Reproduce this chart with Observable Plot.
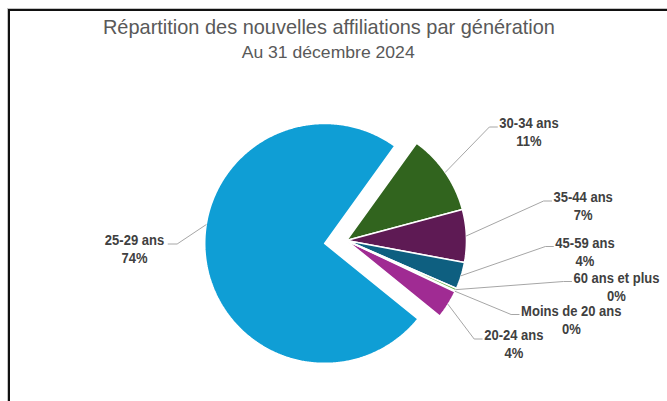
<!DOCTYPE html>
<html>
<head>
<meta charset="utf-8">
<script src="https://cdn.jsdelivr.net/npm/d3@7"></script>
<script src="https://cdn.jsdelivr.net/npm/@observablehq/plot@0.6"></script>
<style>
  html, body { margin: 0; padding: 0; background: #fff; }
  body { width: 667px; height: 401px; overflow: hidden; position: relative; }
  #chart { position: absolute; left: 0; top: 0; }
  #frameOuter { position: absolute; left: 7px; top: 8px; width: 700px; height: 420px;
    border-left: 1px solid #c4c4c4; border-top: 1px solid #c4c4c4; box-sizing: border-box; }
  #frameInner { position: absolute; left: 0; top: 0; width: 700px; height: 420px;
    border-left: 2px solid #111; border-top: 2px solid #111; box-sizing: border-box; }
  .ttl { position: absolute; left: 0; width: 657px; text-align: center; color: #595959;
    font-family: "Liberation Sans Narrow", "Arial Narrow", "Liberation Sans", sans-serif; white-space: nowrap; }
  #title { top: 15px; font-size: 21px; line-height: 24px; }
  #subtitle { top: 42px; font-size: 16.5px; line-height: 20px; }
</style>
</head>
<body>
<div id="chart"></div>
<div id="frameOuter"><div id="frameInner"></div></div>
<div id="title" class="ttl">Répartition des nouvelles affiliations par génération</div>
<div id="subtitle" class="ttl">Au 31 décembre 2024</div>
<script>
// ---- data ----
const categories = ["Moins de 20 ans", "20-24 ans", "25-29 ans", "30-34 ans", "35-44 ans", "45-59 ans", "60 ans et plus"];
const shares = [0.15, 3.8, 74.1, 10.9, 7.1, 3.6, 0.35];
const sliceColors = ["#196B24", "#A02B93", "#0F9ED5", "#31641E", "#5E1A54", "#0E5F80", "#4EA72E"];

// ---- layout ----
const W = 667, H = 401;
const pieCenter = [346, 240];
const radius = 120;
const firstSliceAngle = 114.8; // degrees, clockwise from 12 o'clock
const explode = {"25-29 ans": 22};
// label block: [center x, first line center y, side]
const labelLayout = {
  "30-34 ans": [528.5, 123, "right"],
  "35-44 ans": [582.7, 197, "right"],
  "45-59 ans": [584.5, 242.5, "right"],
  "60 ans et plus": [616, 277.5, "right"],
  "Moins de 20 ans": [570.8, 310.5, "right"],
  "20-24 ans": [513.3, 335, "right"],
  "25-29 ans": [134, 240, "left"]
};
const leaderAngleOverride = {"25-29 ans": 279};
const widthFont = "bold 13px 'Liberation Sans', Arial, sans-serif";

// ---- geometry from data ----
const rows = categories.map((c, i) => ({cat: c, share: shares[i], color: sliceColors[i]}));
const a0 = firstSliceAngle * Math.PI / 180;
const arcs = d3.pie().sort(null).value(d => d.share).startAngle(a0).endAngle(a0 + 2 * Math.PI)(rows);

const polyPts = [];
const sliceInfo = {};
for (const arc of arcs) {
  const cat = arc.data.cat;
  const mid = (arc.startAngle + arc.endAngle) / 2;
  const e = explode[cat] || 0;
  const ax = pieCenter[0] + e * Math.sin(mid);
  const ay = pieCenter[1] - e * Math.cos(mid);
  sliceInfo[cat] = {ax, ay, mid};
  polyPts.push({cat, x: ax, y: ay});
  const n = Math.max(2, Math.ceil((arc.endAngle - arc.startAngle) / (0.5 * Math.PI / 180)));
  for (let k = 0; k <= n; k++) {
    const a = arc.startAngle + (arc.endAngle - arc.startAngle) * k / n;
    polyPts.push({cat, x: ax + radius * Math.sin(a), y: ay - radius * Math.cos(a)});
  }
  polyPts.push({cat, x: ax, y: ay});
}

// ---- labels + leaders ----
const ctx = document.createElement("canvas").getContext("2d");
ctx.font = widthFont;
const labelRows = [];
const leaderPts = [];
arcs.forEach(arc => {
  const cat = arc.data.cat;
  const [lx, ly, side] = labelLayout[cat];
  const pct = Math.round(arc.data.share) + "%";
  labelRows.push({cat, x: lx, y: ly, text: cat});
  labelRows.push({cat, x: lx, y: ly + 18, text: pct});
  const w = ctx.measureText(cat).width;
  const s = sliceInfo[cat];
  const la = leaderAngleOverride[cat] != null ? leaderAngleOverride[cat] * Math.PI / 180 : s.mid;
  const sx = s.ax + radius * Math.sin(la), sy = s.ay - radius * Math.cos(la);
  let ex, ey = ly + 3.5, endx;
  if (side === "right") { ex = lx - w / 2 - 10; endx = lx - w / 2 - 2; }
  else { ex = lx + w / 2 + 13; endx = lx + w / 2 + 4; }
  leaderPts.push({cat, x: sx, y: sy}, {cat, x: ex, y: ey}, {cat, x: endx, y: ey});
});

const plot = Plot.plot({
  width: W, height: H,
  marginTop: 0, marginRight: 0, marginBottom: 0, marginLeft: 0,
  x: {domain: [0, W], range: [0, W], axis: null},
  y: {domain: [0, H], range: [0, H], axis: null},
  color: {domain: categories, range: sliceColors},
  style: {background: "none", overflow: "visible"},
  marks: [
    Plot.line(polyPts, {x: "x", y: "y", z: "cat", fill: "cat", stroke: "white", strokeWidth: 1.6, strokeLinejoin: "miter", curve: "linear"}),
    Plot.line(leaderPts, {x: "x", y: "y", z: "cat", stroke: "#a6a6a6", strokeWidth: 1, curve: "linear"}),
    Plot.text(labelRows, {x: "x", y: "y", text: "text", fill: "#404040", fontSize: 14.5, fontWeight: "bold",
      fontFamily: "'Liberation Sans Narrow', 'Liberation Sans', Arial, sans-serif", textAnchor: "middle", lineAnchor: "middle"})
  ]
});
document.getElementById("chart").appendChild(plot);

// narrow the label glyphs to the reference widths
plot.querySelectorAll("g[aria-label='text'] text").forEach(t => {
  const w = ctx.measureText(t.textContent).width;
  t.setAttribute("textLength", w.toFixed(1));
  t.setAttribute("lengthAdjust", "spacingAndGlyphs");
});

// fit title widths to reference
function fit(id, target) {
  const el = document.getElementById(id);
  const span = document.createElement("span");
  span.textContent = el.textContent; el.textContent = ""; el.appendChild(span);
  span.style.display = "inline-block";
  const w = span.getBoundingClientRect().width;
  if (w > 0) span.style.transform = `scaleX(${target / w})`;
}
fit("title", 452);
fit("subtitle", 173);
</script>
</body>
</html>
